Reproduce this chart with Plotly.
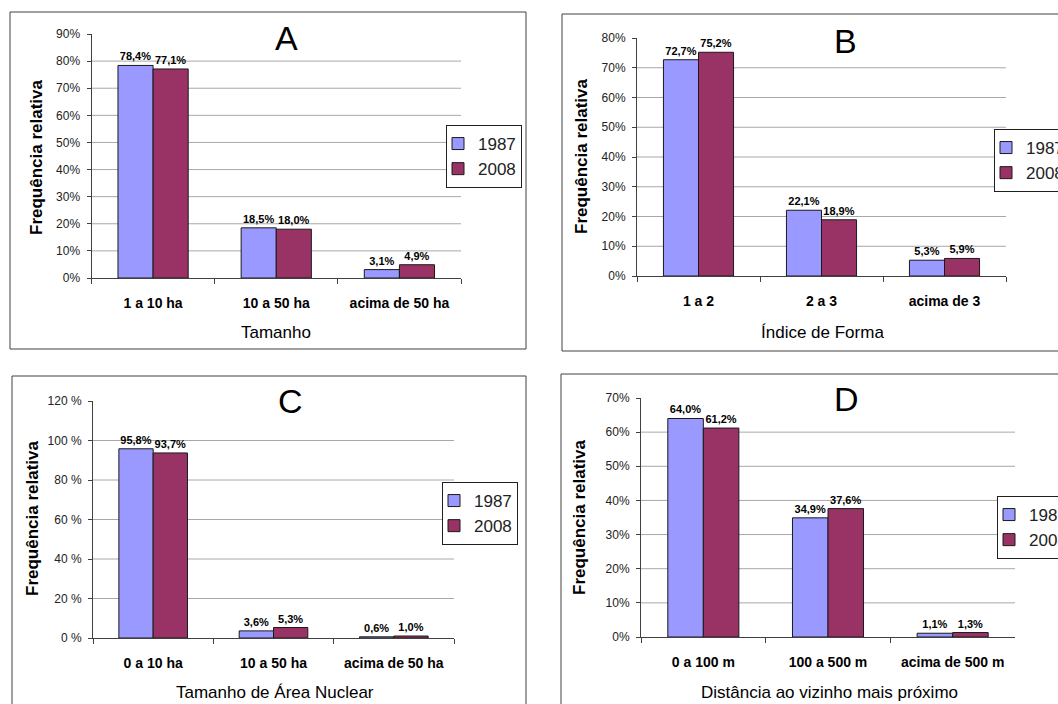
import plotly.graph_objects as go

W, H = 1058, 704
FONT = "Liberation Sans, Arial, sans-serif"

years = ["1987", "2008"]
colors = ["#9999FF", "#993366"]

cats_a = ["1 a 10 ha", "10 a 50 ha", "acima de 50 ha"]
a_1987 = [78.4, 18.5, 3.1]
a_2008 = [77.1, 18.0, 4.9]

cats_b = ["1 a 2", "2 a 3", "acima de 3"]
b_1987 = [72.7, 22.1, 5.3]
b_2008 = [75.2, 18.9, 5.9]

cats_c = ["0 a 10 ha", "10 a 50 ha", "acima de 50 ha"]
c_1987 = [95.8, 3.6, 0.6]
c_2008 = [93.7, 5.3, 1.0]

cats_d = ["0 a 100 m", "100 a 500 m", "acima de 500 m"]
d_1987 = [64.0, 34.9, 1.1]
d_2008 = [61.2, 37.6, 1.3]

ticks_a = [0, 10, 20, 30, 40, 50, 60, 70, 80, 90]
ticks_b = [0, 10, 20, 30, 40, 50, 60, 70, 80]
ticks_c = [0, 20, 40, 60, 80, 100, 120]
ticks_d = [0, 10, 20, 30, 40, 50, 60, 70]

letters = ["A", "B", "C", "D"]
xtitles = ["Tamanho", "Índice de Forma", "Tamanho de Área Nuclear",
           "Distância ao vizinho mais próximo"]
ytitle = "Frequência relativa"


def px_x(v):
    return v / W


def px_y(v):
    return 1 - v / H


panels = [
    dict(cats=cats_a, s=[a_1987, a_2008], ticks=ticks_a, suffix="%",
         plot=(91.5, 461, 278, 34), border=(10, 12, 526, 349),
         legend=(446, 125), letter=(286, 38), xt=(276, 332), yt=(36, 157)),
    dict(cats=cats_b, s=[b_1987, b_2008], ticks=ticks_b, suffix="%",
         plot=(637, 1006, 276, 38), border=(562, 14, 1070, 351),
         legend=(994, 129), letter=(845, 41), xt=(822, 332), yt=(582, 156)),
    dict(cats=cats_c, s=[c_1987, c_2008], ticks=ticks_c, suffix=" %",
         plot=(93, 454, 638, 401), border=(12, 376, 526, 720),
         legend=(442, 482), letter=(290, 401), xt=(275, 692), yt=(32, 518)),
    dict(cats=cats_d, s=[d_1987, d_2008], ticks=ticks_d, suffix="%",
         plot=(641, 1015, 637, 398), border=(561, 374, 1070, 720),
         legend=(997, 496), letter=(846, 399), xt=(829, 692), yt=(579, 517)),
]

fig = go.Figure()
shapes = []
annotations = []
layout = {}

for i, p in enumerate(panels):
    n = i + 1
    sfx = "" if n == 1 else str(n)
    xa, ya = "x" + sfx, "y" + sfx
    leg = "legend" + sfx
    for k, (yr, col) in enumerate(zip(years, colors)):
        vals = p["s"][k]
        fig.add_trace(go.Bar(
            x=p["cats"], y=vals, name=yr, xaxis=xa, yaxis=ya,
            marker=dict(color=col, line=dict(color="#1a1a1a", width=1)),
            text=[f"{v:.1f}".replace(".", ",") + "%" for v in vals],
            textposition="outside", constraintext="none", cliponaxis=False,
            textfont=dict(family=FONT, size=11, color="black", weight="bold"),
            legend=leg, legendgroup=f"{n}-{yr}", showlegend=True,
        ))
    x0, x1, yz, yt = p["plot"]
    ticks = p["ticks"]
    layout["xaxis" + sfx] = dict(
        domain=[px_x(x0), px_x(x1)], anchor=ya, type="category",
        showline=True, linecolor="#404040", linewidth=1,
        ticks="outside", ticklen=5, tickcolor="#404040", tickson="boundaries",
        showgrid=False, zeroline=False, ticklabelstandoff=12,
        tickfont=dict(family=FONT, size=14, color="black", weight="bold"),
    )
    layout["yaxis" + sfx] = dict(
        domain=[px_y(yz), px_y(yt)], anchor=xa, range=[ticks[0], ticks[-1]],
        tickmode="array", tickvals=ticks,
        ticktext=[f"{t}{p['suffix']}" for t in ticks],
        showline=True, linecolor="#404040", linewidth=1,
        ticks="outside", ticklen=4, tickcolor="#404040",
        showgrid=False, zeroline=False, ticklabelstandoff=4,
        tickfont=dict(family=FONT, size=12, color="#222222"),
    )
    for t in ticks[1:-1]:
        shapes.append(dict(type="line", xref=xa + " domain", yref=ya,
                           x0=0, x1=1, y0=t, y1=t,
                           line=dict(color="#a8a8a8", width=1), layer="below"))
    bx0, by0, bx1, by1 = p["border"]
    shapes.append(dict(type="rect", xref="paper", yref="paper",
                       x0=px_x(bx0), x1=px_x(bx1), y0=px_y(by1), y1=px_y(by0),
                       line=dict(color="#404040", width=1)))
    lx, ly = p["legend"]
    layout[leg] = dict(
        x=px_x(lx), y=px_y(ly), xanchor="left", yanchor="top",
        bordercolor="#202020", borderwidth=1, bgcolor="white",
        font=dict(family=FONT, size=17, color="#222222"),
        itemwidth=30, indentation=-9, tracegroupgap=2, traceorder="normal",
    )
    annotations.append(dict(text=letters[i], xref="paper", yref="paper",
                            x=px_x(p["letter"][0]), y=px_y(p["letter"][1]),
                            xanchor="center", yanchor="middle", showarrow=False,
                            font=dict(family=FONT, size=34, color="black")))
    annotations.append(dict(text=xtitles[i], xref="paper", yref="paper",
                            x=px_x(p["xt"][0]), y=px_y(p["xt"][1]),
                            xanchor="center", yanchor="middle", showarrow=False,
                            font=dict(family=FONT, size=17, color="black")))
    annotations.append(dict(text=ytitle, xref="paper", yref="paper",
                            x=px_x(p["yt"][0]), y=px_y(p["yt"][1]),
                            xanchor="center", yanchor="middle", showarrow=False,
                            textangle=-90,
                            font=dict(family=FONT, size=17, color="black",
                                      weight="bold")))

fig.update_layout(
    width=W, height=H,
    margin=dict(l=0, r=0, t=0, b=0, autoexpand=False),
    paper_bgcolor="white", plot_bgcolor="rgba(0,0,0,0)",
    barmode="group", bargap=0.43, bargroupgap=0,
    shapes=shapes, annotations=annotations,
    font=dict(family=FONT),
    **layout,
)

fig.write_html(
    "out.html",
    config={"displayModeBar": False},
    post_script="document.body.style.margin='0';"
                "document.body.style.overflow='hidden';",
)
